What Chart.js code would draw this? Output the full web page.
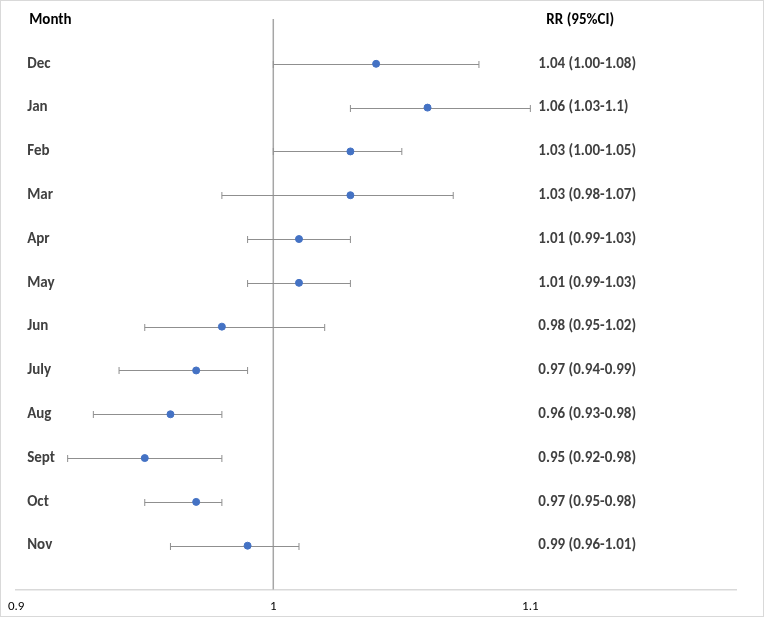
<!DOCTYPE html>
<html>
<head>
<meta charset="utf-8">
<script src="https://cdn.jsdelivr.net/npm/chart.js@4"></script>
<style>
  html, body { margin: 0; padding: 0; background: #fff; }
  #wrap { width: 764px; height: 617px; position: relative; box-sizing: border-box; border: 1px solid #d9d9d9; }
  canvas { display: block; }
</style>
</head>
<body>
<div id="wrap"><canvas id="forest"></canvas></div>
<script>
// Forest plot data
const months = ['Dec', 'Jan', 'Feb', 'Mar', 'Apr', 'May', 'Jun', 'July', 'Aug', 'Sept', 'Oct', 'Nov'];
const rr    = [1.04, 1.06, 1.03, 1.03, 1.01, 1.01, 0.98, 0.97, 0.96, 0.95, 0.97, 0.99];
const lower = [1.00, 1.03, 1.00, 0.98, 0.99, 0.99, 0.95, 0.94, 0.93, 0.92, 0.95, 0.96];
const upper = [1.08, 1.10, 1.05, 1.07, 1.03, 1.03, 1.02, 0.99, 0.98, 0.98, 0.98, 1.01];
const rrLabels = ['1.04 (1.00-1.08)', '1.06 (1.03-1.1)', '1.03 (1.00-1.05)', '1.03 (0.98-1.07)',
    '1.01 (0.99-1.03)', '1.01 (0.99-1.03)', '0.98 (0.95-1.02)', '0.97 (0.94-0.99)',
    '0.96 (0.93-0.98)', '0.95 (0.92-0.98)', '0.97 (0.95-0.98)', '0.99 (0.96-1.01)'];
const xTicks = [0.9, 1, 1.1];

const FONT = 'Carlito, Lato, "Liberation Sans", sans-serif';

// Error bars, reference line and row texts
const forestPlugin = {
    id: 'forest',
    beforeDatasetsDraw(chart) {
        const { ctx, scales: { x, y } } = chart;
        ctx.save();
        // line at RR = 1
        ctx.strokeStyle = '#a6a6a6';
        ctx.lineWidth = 1.5;
        ctx.beginPath();
        ctx.moveTo(x.getPixelForValue(1), y.getPixelForValue(0) - 1);
        ctx.lineTo(x.getPixelForValue(1), y.getPixelForValue(13));
        ctx.stroke();

        ctx.strokeStyle = '#8f8f8f';
        ctx.lineWidth = 1;
        months.forEach((m, i) => {
            const py = Math.round(y.getPixelForValue(i + 1)) + 0.5;
            const x0 = x.getPixelForValue(lower[i]);
            const x1 = x.getPixelForValue(upper[i]);
            ctx.beginPath();
            ctx.moveTo(x0, py); ctx.lineTo(x1, py);
            ctx.moveTo(x0, py - 3.5); ctx.lineTo(x0, py + 3.5);
            ctx.moveTo(x1, py - 3.5); ctx.lineTo(x1, py + 3.5);
            ctx.stroke();
        });
        ctx.restore();
    },
    afterDatasetsDraw(chart) {
        const { ctx, chartArea, scales: { x, y } } = chart;
        ctx.save();
        ctx.textBaseline = 'middle';
        ctx.textAlign = 'left';
        ctx.font = 'bold 15px ' + FONT;
        ctx.fillStyle = '#000';
        ctx.fillText('Month', chartArea.left + 13, y.getPixelForValue(0));
        ctx.fillText('RR (95%CI)', x.getPixelForValue(1.1) + 16, y.getPixelForValue(0));
        ctx.fillStyle = '#404040';
        months.forEach((m, i) => {
            const py = y.getPixelForValue(i + 1);
            ctx.fillText(m, chartArea.left + 11, py);
            ctx.fillText(rrLabels[i], x.getPixelForValue(1.1) + 8, py);
        });
        ctx.restore();
    }
};

new Chart(document.getElementById('forest'), {
    type: 'scatter',
    data: {
        datasets: [{
            label: 'RR',
            data: rr.map((v, i) => ({ x: v, y: i + 1 })),
            backgroundColor: '#4472c4',
            borderColor: '#4472c4',
            pointRadius: 3.5,
            pointHoverRadius: 3.5
        }]
    },
    options: {
        responsive: true,
        maintainAspectRatio: false,
        animation: false,
        layout: { padding: { left: 13, right: 27, top: 19, bottom: -7 } },
        plugins: { legend: { display: false }, tooltip: { enabled: false } },
        scales: {
            x: {
                type: 'linear',
                min: 0.9,
                max: 1.18,
                afterBuildTicks: (scale) => { scale.ticks = xTicks.map(v => ({ value: v })); },
                grid: { display: false, drawTicks: false },
                border: { display: true, color: '#d9d9d9', width: 1.5 },
                ticks: {
                    color: '#000',
                    font: { family: FONT, size: 13, lineHeight: 1.5 },
                    padding: 7,
                    autoSkip: false,
                    maxRotation: 0,
                    callback: (v) => String(v)
                }
            },
            y: {
                display: false,
                reverse: true,
                min: 0,
                max: 13
            }
        }
    },
    plugins: [forestPlugin]
});
</script>
</body>
</html>
